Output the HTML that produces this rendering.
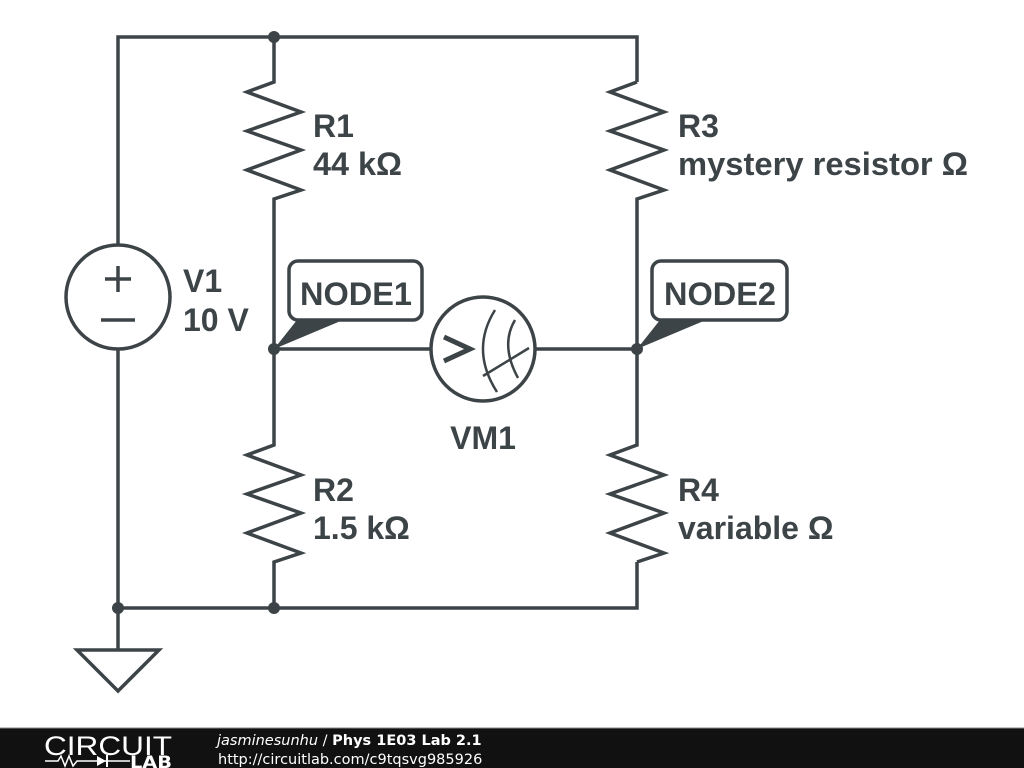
<!DOCTYPE html>
<html><head><meta charset="utf-8"><style>
html,body{margin:0;padding:0;background:#fff;}
svg{display:block;}
text{font-family:"DejaVu Sans","Liberation Sans",sans-serif;}
.lb text{font-family:"Liberation Sans",sans-serif;}
</style></head><body>
<svg width="1024" height="768" viewBox="0 0 1024 768" xmlns="http://www.w3.org/2000/svg">
<g stroke="#3d4448" stroke-width="3.5" fill="none" stroke-linejoin="miter">
<polyline points="118,245 118,37 637,37 637,82"/>
<polyline points="118,349 118,608 637,608 637,562"/>
<line x1="118" y1="608" x2="118" y2="650"/>
<polygon points="77,650 159,650 118,691"/>
<circle cx="118" cy="297" r="52"/>
<line x1="118" y1="266" x2="118" y2="292"/><line x1="105" y1="279" x2="131" y2="279"/>
<line x1="101" y1="320" x2="135" y2="320"/>
<polyline points="274,37 274,82 247,92 301,112 247,131 301,150 247,170 301,190 274,199 274,445 247,455 301,475 247,494 301,513 247,533 301,553 274,562 274,608"/>
<polyline points="637,82 610,92 664,112 610,131 664,150 610,170 664,190 637,199 637,445 610,455 664,475 610,494 664,513 610,533 664,553 637,562"/>
<line x1="274" y1="349" x2="431" y2="349"/>
<line x1="535" y1="349" x2="637" y2="349"/>
<circle cx="483" cy="349" r="52"/>
<polyline points="444,337 470,349 444,361" stroke-width="5"/>
<path d="M495,310 Q470,350 497,392" stroke-width="2.5"/>
<path d="M515,320 Q500,345 518,378" stroke-width="2.5"/>
<line x1="483" y1="376" x2="529" y2="348" stroke-width="2.5"/>
<rect x="289" y="261" width="133" height="59" rx="9"/>
<rect x="652" y="261" width="135" height="59" rx="9"/>
</g>
<g fill="#3d4448">
<polygon points="297,320 343,320 274,349"/>
<polygon points="660,320 706,320 637,349"/>
<circle cx="274" cy="37" r="6"/><circle cx="274" cy="349" r="6"/><circle cx="637" cy="349" r="6"/>
<circle cx="118" cy="608" r="6"/><circle cx="274" cy="608" r="6"/>
</g>
<g class="lb" fill="#3d4448" font-weight="bold" font-size="32">
<text x="313" y="137">R1</text><text x="313" y="175" textLength="89" lengthAdjust="spacingAndGlyphs">44 kΩ</text>
<text x="678" y="137">R3</text><text x="678" y="175" textLength="290" lengthAdjust="spacingAndGlyphs">mystery resistor Ω</text>
<text x="183" y="292">V1</text><text x="183" y="331">10 V</text>
<text x="483" y="449" text-anchor="middle">VM1</text>
<text x="313" y="501">R2</text><text x="313" y="539">1.5 kΩ</text>
<text x="678" y="501">R4</text><text x="678" y="539">variable Ω</text>
<text x="300" y="305" textLength="112" lengthAdjust="spacingAndGlyphs">NODE1</text>
<text x="664" y="305" textLength="112" lengthAdjust="spacingAndGlyphs">NODE2</text>
</g>
<rect x="0" y="728" width="1024" height="40" fill="#111"/>
<line x1="0" y1="728" x2="1024" y2="728" stroke="#888" stroke-width="1"/>
<g class="lb"><text x="44" y="755" fill="#fff" font-size="27" textLength="128" lengthAdjust="spacingAndGlyphs">CIRCUIT</text></g>
<g stroke="#fff" stroke-width="1.5" fill="none"><polyline points="45,761 58,761 61,756 65,766 69,756 73,766 77,761 90,761"/><line x1="90" y1="761" x2="130" y2="761"/></g>
<polygon points="97,756 97,766 106,761" fill="#fff"/><line x1="107" y1="755" x2="107" y2="767" stroke="#fff" stroke-width="2"/>
<text x="130" y="768" fill="#fff" font-size="17" font-weight="bold" textLength="42" lengthAdjust="spacingAndGlyphs">LAB</text>
<text x="217" y="745" fill="#fff" font-size="14.5"><tspan font-style="italic">jasminesunhu</tspan> / <tspan font-weight="bold">Phys 1E03 Lab 2.1</tspan></text>
<text x="218" y="764" fill="#fff" font-size="14.5">http://circuitlab.com/c9tqsvg985926</text>
</svg>
</body></html>
